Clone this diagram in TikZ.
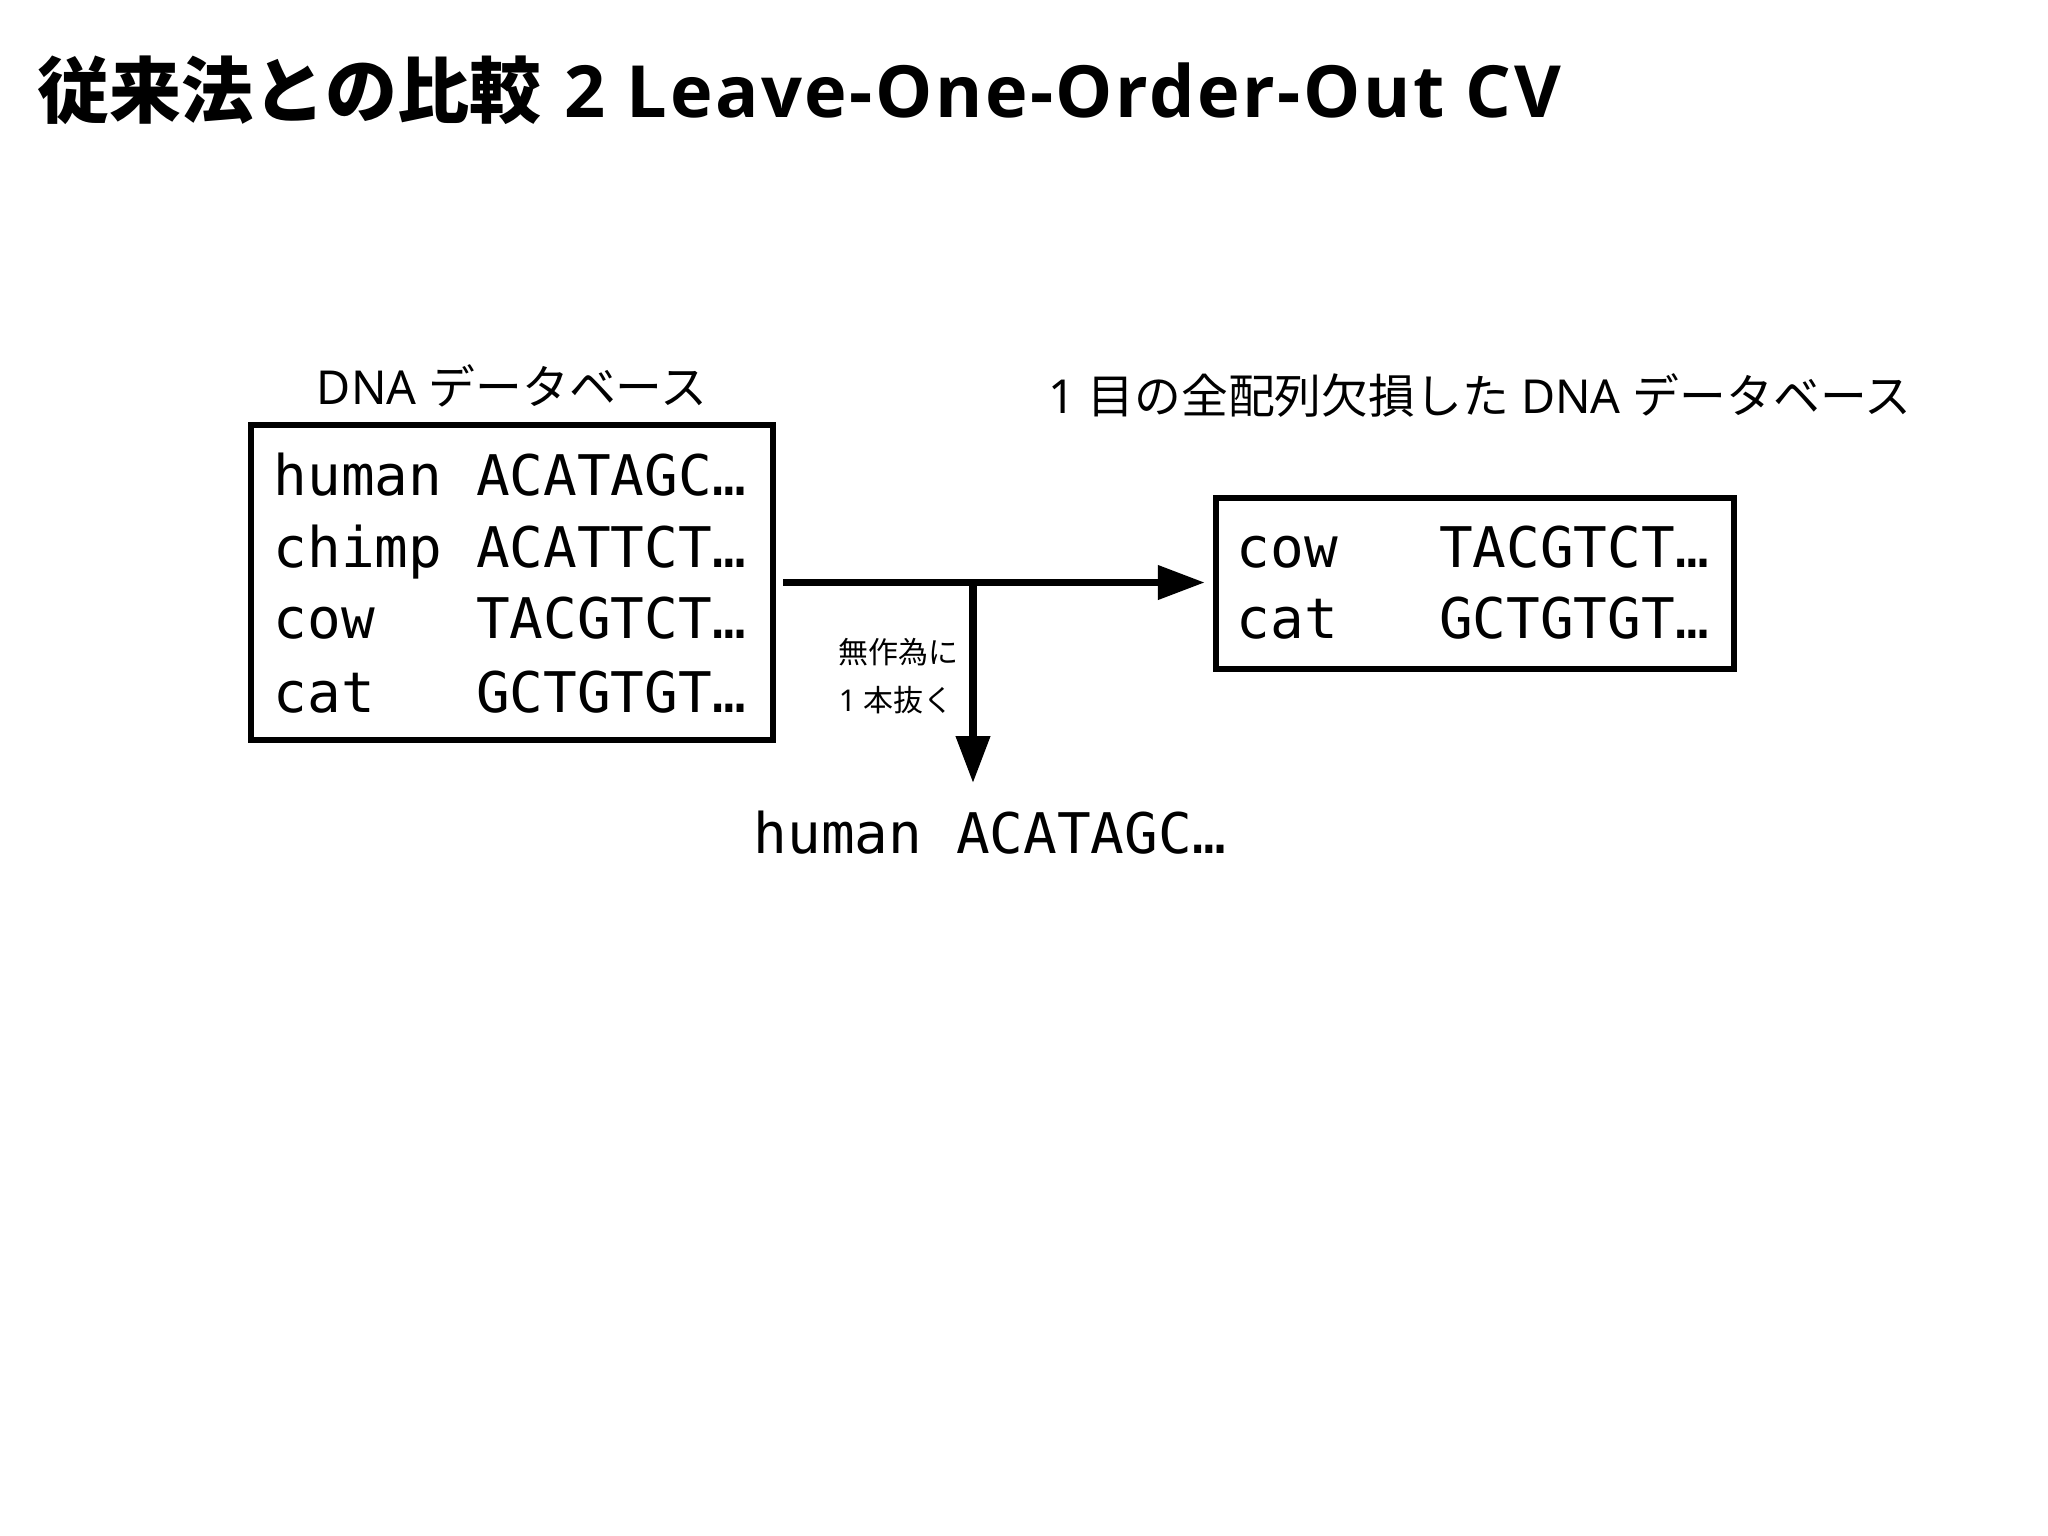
\documentclass[tikz,border=0pt]{standalone}
\usepackage{fontspec}
\setmainfont{Noto Sans}
\newfontfamily\titlelat{Open Sans}[LetterSpace=3.5]
\newfontfamily\jp{Noto Sans CJK JP}
\newfontfamily\mono{DejaVu Sans Mono}
\usetikzlibrary{arrows.meta}
\begin{document}
\begin{tikzpicture}[x=0.25pt,y=-0.25pt,
  box/.style={draw, line width=1.6pt, rectangle, inner sep=0pt},
  seq/.style={font=\mono\fontsize{14pt}{16pt}\selectfont, anchor=base west, inner sep=0pt},
  lab/.style={font=\fontsize{11.7pt}{13pt}\selectfont, anchor=base, inner sep=0pt},
  small/.style={font=\fontsize{7.5pt}{9pt}\selectfont, anchor=base west, inner sep=0pt},
  conn/.style={line width=1.85pt, -{Triangle[length=11.75pt,width=8.25pt]}},
]
\useasboundingbox (0,0) rectangle (2048,1535);
% title
\node[anchor=base west, inner sep=0pt, font=\fontsize{18pt}{20pt}\selectfont\bfseries] (title) at (37,117)
  {{\jp 従来法との比較}\hspace{1.2pt} {\titlelat\bfseries 2 Leave-One-Order-Out CV}};
% labels
\node[lab] (llab) at (512,404) {DNA {\jp データベース}};
\node[lab] (rlab) at (1480,413) {1 {\jp 目の全配列欠損した} DNA {\jp データベース}};
% boxes
\node[box, minimum width=130.5pt, minimum height=78.75pt] (lbox) at (512,582.5) {};
\node[box, minimum width=129.5pt, minimum height=42.75pt] (rbox) at (1475,583.5) {};
% sequences in left box
\node[seq] (l1) at (273,495) {human ACATAGC…};
\node[seq] (l2) at (273,567) {chimp ACATTCT…};
\node[seq] (l3) at (273,638) {cow\hphantom{xxx}TACGTCT…};
\node[seq] (l4) at (273,712) {cat\hphantom{xxx}GCTGTGT…};
% sequences in right box
\node[seq] (r1) at (1236,567) {cow\hphantom{xxx}TACGTCT…};
\node[seq] (r2) at (1236,638) {cat\hphantom{xxx}GCTGTGT…};
% removed sequence
\node[seq] (htext) at (753,853) {human ACATAGC…};
% middle label
\node[small] (m1) at (838,663) {\jp 無作為に};
\node[small] (m2) at (838,711) {1 {\jp 本抜く}};
% connectors
\draw[conn] ([xshift=1.75pt]lbox.east) -- ([xshift=-2pt]lbox.east -| rbox.west);
\coordinate (jn) at (973,582.5);
\coordinate (tipv) at (973,783);
\draw[conn] (jn) -- (tipv);
\end{tikzpicture}
\end{document}
